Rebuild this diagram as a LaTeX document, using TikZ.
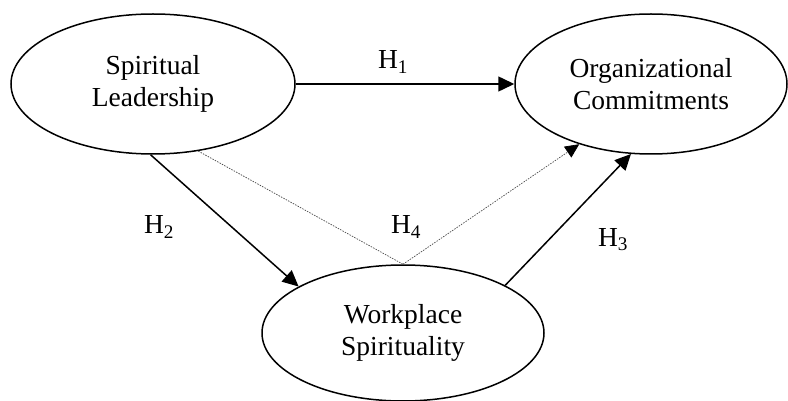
\documentclass[tikz,border=0pt]{standalone}
\usepackage{fontspec}
\setmainfont{Liberation Serif}
\usetikzlibrary{arrows.meta,shapes.geometric}

\tikzset{
    construct/.style={ellipse, draw, line width=1.5pt, inner sep=0pt, align=center,
        font=\fontsize{27.5}{32}\selectfont},
    hyp/.style={font=\fontsize{27.5}{32}\selectfont},
    path/.style={line width=1.5pt, -{Triangle[length=16pt,width=15pt]}},
    mediated/.style={black!70, dash pattern=on 1.5pt off 1.2pt, line width=0.7pt}
}

\begin{document}
\begin{tikzpicture}[x=1pt, y=-1pt]

    \useasboundingbox (0,0) rectangle (788,401);

    % Konstrukte
    \node[construct, minimum width=284pt, minimum height=140pt] (sl) at (153,84) {Spiritual\\Leadership};
    \node[construct, minimum width=272pt, minimum height=140pt] (oc) at (651,84) {Organizational\\Commitments};
    \node[construct, minimum width=282pt, minimum height=136pt] (ws) at (403,333) {Workplace\\Spirituality};

    \coordinate (mid) at (ws.north);

    % Hypothesen
    \node[hyp] (h1) at (393,62) {H\textsubscript{1}};
    \node[hyp] (h2) at (159,227) {H\textsubscript{2}};
    \node[hyp] (h4) at (406,227) {H\textsubscript{4}};
    \node[hyp] (h3) at (613,240) {H\textsubscript{3}};

    \draw[path] (sl.east) -- (oc.west);
    \draw[path] (sl.268) -- (ws.156);
    \draw[path] (ws.25) -- (oc.254);

    \draw[mediated] (sl.304) -- (mid);
    \draw[mediated, -{Triangle[length=14pt,width=13pt,black]}] (mid) -- (oc.220);

\end{tikzpicture}
\end{document}
